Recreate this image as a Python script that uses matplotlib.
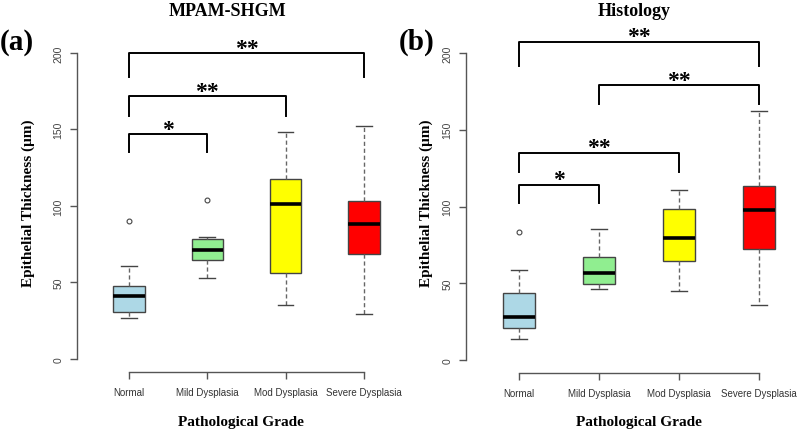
import matplotlib
matplotlib.use("Agg")
import matplotlib.pyplot as plt

# categories and box statistics
grades = ["Normal", "Mild Dysplasia", "Mod Dysplasia", "Severe Dysplasia"]
box_colors = ["#ADD8E6", "#90EE90", "#FFFF00", "#FF0000"]

# (a) MPAM-SHGM: lower whisker, Q1, median, Q3, upper whisker
a_whislo = [26.8, 52.9, 35.3, 29.2]
a_q1 = [30.5, 64.7, 56.0, 68.6]
a_med = [41.2, 71.2, 101.3, 88.0]
a_q3 = [47.5, 78.2, 117.4, 103.3]
a_whishi = [60.8, 79.9, 148.2, 152.5]
a_fliers = [[90.4], [103.9], [], []]

# (b) Histology
b_whislo = [13.9, 46.4, 45.1, 35.8]
b_q1 = [21.0, 49.5, 64.8, 72.2]
b_med = [28.4, 57.0, 79.4, 98.0]
b_q3 = [43.6, 67.4, 98.5, 113.4]
b_whishi = [59.0, 85.5, 110.8, 162.0]
b_fliers = [[83.3], [], [], []]

# significance brackets: (group i, group j, bar height, drop to, label)
a_brackets = [(1, 2, 147, 135, "*"), (1, 3, 171.7, 159, "**"), (1, 4, 200, 184, "**")]
b_brackets = [(1, 2, 114.3, 102.2, "*"), (1, 3, 135.1, 122.7, "**"),
              (2, 4, 179.2, 166.8, "**"), (1, 4, 207.4, 191.4, "**")]

SERIF = ["Liberation Serif", "DejaVu Serif"]
SANS = ["Liberation Sans", "DejaVu Sans"]
AX_COL = "#555555"

fig = plt.figure(figsize=(8, 4.35), dpi=100)
W, H = 800, 435


def px_axes(left, right, bottom, top):
    return fig.add_axes([left / W, (H - bottom) / H, (right - left) / W, (bottom - top) / H])


def draw_panel(ax, whislo, q1, med, q3, whishi, fliers, brackets, ylim):
    stats = []
    for i in range(len(grades)):
        stats.append(dict(whislo=whislo[i], q1=q1[i], med=med[i], q3=q3[i],
                          whishi=whishi[i], fliers=fliers[i]))
    bp = ax.bxp(stats, positions=range(1, 5), widths=0.4, patch_artist=True,
                showfliers=True,
                boxprops=dict(edgecolor="#444444", lw=1.0),
                medianprops=dict(color="black", lw=2.6, solid_capstyle="butt"),
                whiskerprops=dict(color="#666666", lw=1.0, ls=(0, (3, 2))),
                capprops=dict(color="#444444", lw=1.0),
                capwidths=0.2,
                flierprops=dict(marker="o", ms=3.5, mfc="none", mec="#444444", mew=0.8))
    for patch, c in zip(bp["boxes"], box_colors):
        patch.set_facecolor(c)

    for i, j, yb, yd, lab in brackets:
        ax.plot([i, i, j, j], [yd, yb, yb, yd], color="black", lw=1.4, clip_on=False)
        ax.annotate(lab, ((i + j) / 2, yb), xytext=(0, -0.5), textcoords="offset points",
                    ha="center", va="baseline", fontsize=17, fontweight="bold",
                    family=SERIF, annotation_clip=False)

    ax.set_xlim(0.34, 4.5)
    ax.set_ylim(*ylim)
    for s in ["top", "right"]:
        ax.spines[s].set_visible(False)
    ax.spines["left"].set_bounds(0, 200)
    ax.spines["bottom"].set_bounds(1, 4)
    for s in ["left", "bottom"]:
        ax.spines[s].set_color(AX_COL)
        ax.spines[s].set_linewidth(1.0)
    ax.set_yticks([0, 50, 100, 150, 200])
    ax.set_yticklabels(["0", "50", "100", "150", "200"], rotation=90, va="center",
                       family=SANS, fontsize=7.5, color="#444444")
    ax.set_xticks(range(1, 5))
    ax.set_xticklabels(grades, family=SANS, fontsize=7, color="#333333")
    ax.tick_params(axis="both", length=5, color=AX_COL, width=1.0)
    ax.tick_params(axis="y", pad=5)
    ax.tick_params(axis="x", pad=6)
    ax.patch.set_alpha(0)


ax_a = px_axes(77.3, 77.3 + 4.16 * 78.3, 373, 373 - 223.5 * 1.53)
draw_panel(ax_a, a_whislo, a_q1, a_med, a_q3, a_whishi, a_fliers, a_brackets, (-8.5, 215))

ax_b = px_axes(466.2, 466.2 + 4.16 * 80, 374, 374 - 223.3 * 1.5365)
draw_panel(ax_b, b_whislo, b_q1, b_med, b_q3, b_whishi, b_fliers, b_brackets, (-8.3, 215))

# titles, panel letters and axis labels
fig.text(227 / W, 1 - 12 / H, "MPAM-SHGM", ha="center", va="center", fontsize=13,
         fontweight="bold", family=SERIF)
fig.text(634 / W, 1 - 12 / H, "Histology", ha="center", va="center", fontsize=13,
         fontweight="bold", family=SERIF)
fig.text(17 / W, 1 - 42 / H, "(a)", ha="center", va="center", fontsize=21,
         fontweight="bold", family=SERIF)
fig.text(417 / W, 1 - 42 / H, "(b)", ha="center", va="center", fontsize=21,
         fontweight="bold", family=SERIF)
fig.text(28 / W, 1 - 203 / H, "Epithelial Thickness (μm)", rotation=90, ha="center",
         va="center", fontsize=11, fontweight="bold", family=SERIF)
fig.text(426 / W, 1 - 203 / H, "Epithelial Thickness (μm)", rotation=90, ha="center",
         va="center", fontsize=11, fontweight="bold", family=SERIF)
fig.text(241 / W, 1 - 423 / H, "Pathological Grade", ha="center", va="center",
         fontsize=11, fontweight="bold", family=SERIF)
fig.text(639 / W, 1 - 423 / H, "Pathological Grade", ha="center", va="center",
         fontsize=11, fontweight="bold", family=SERIF)

fig.savefig("out.png", dpi=100, facecolor="white")
